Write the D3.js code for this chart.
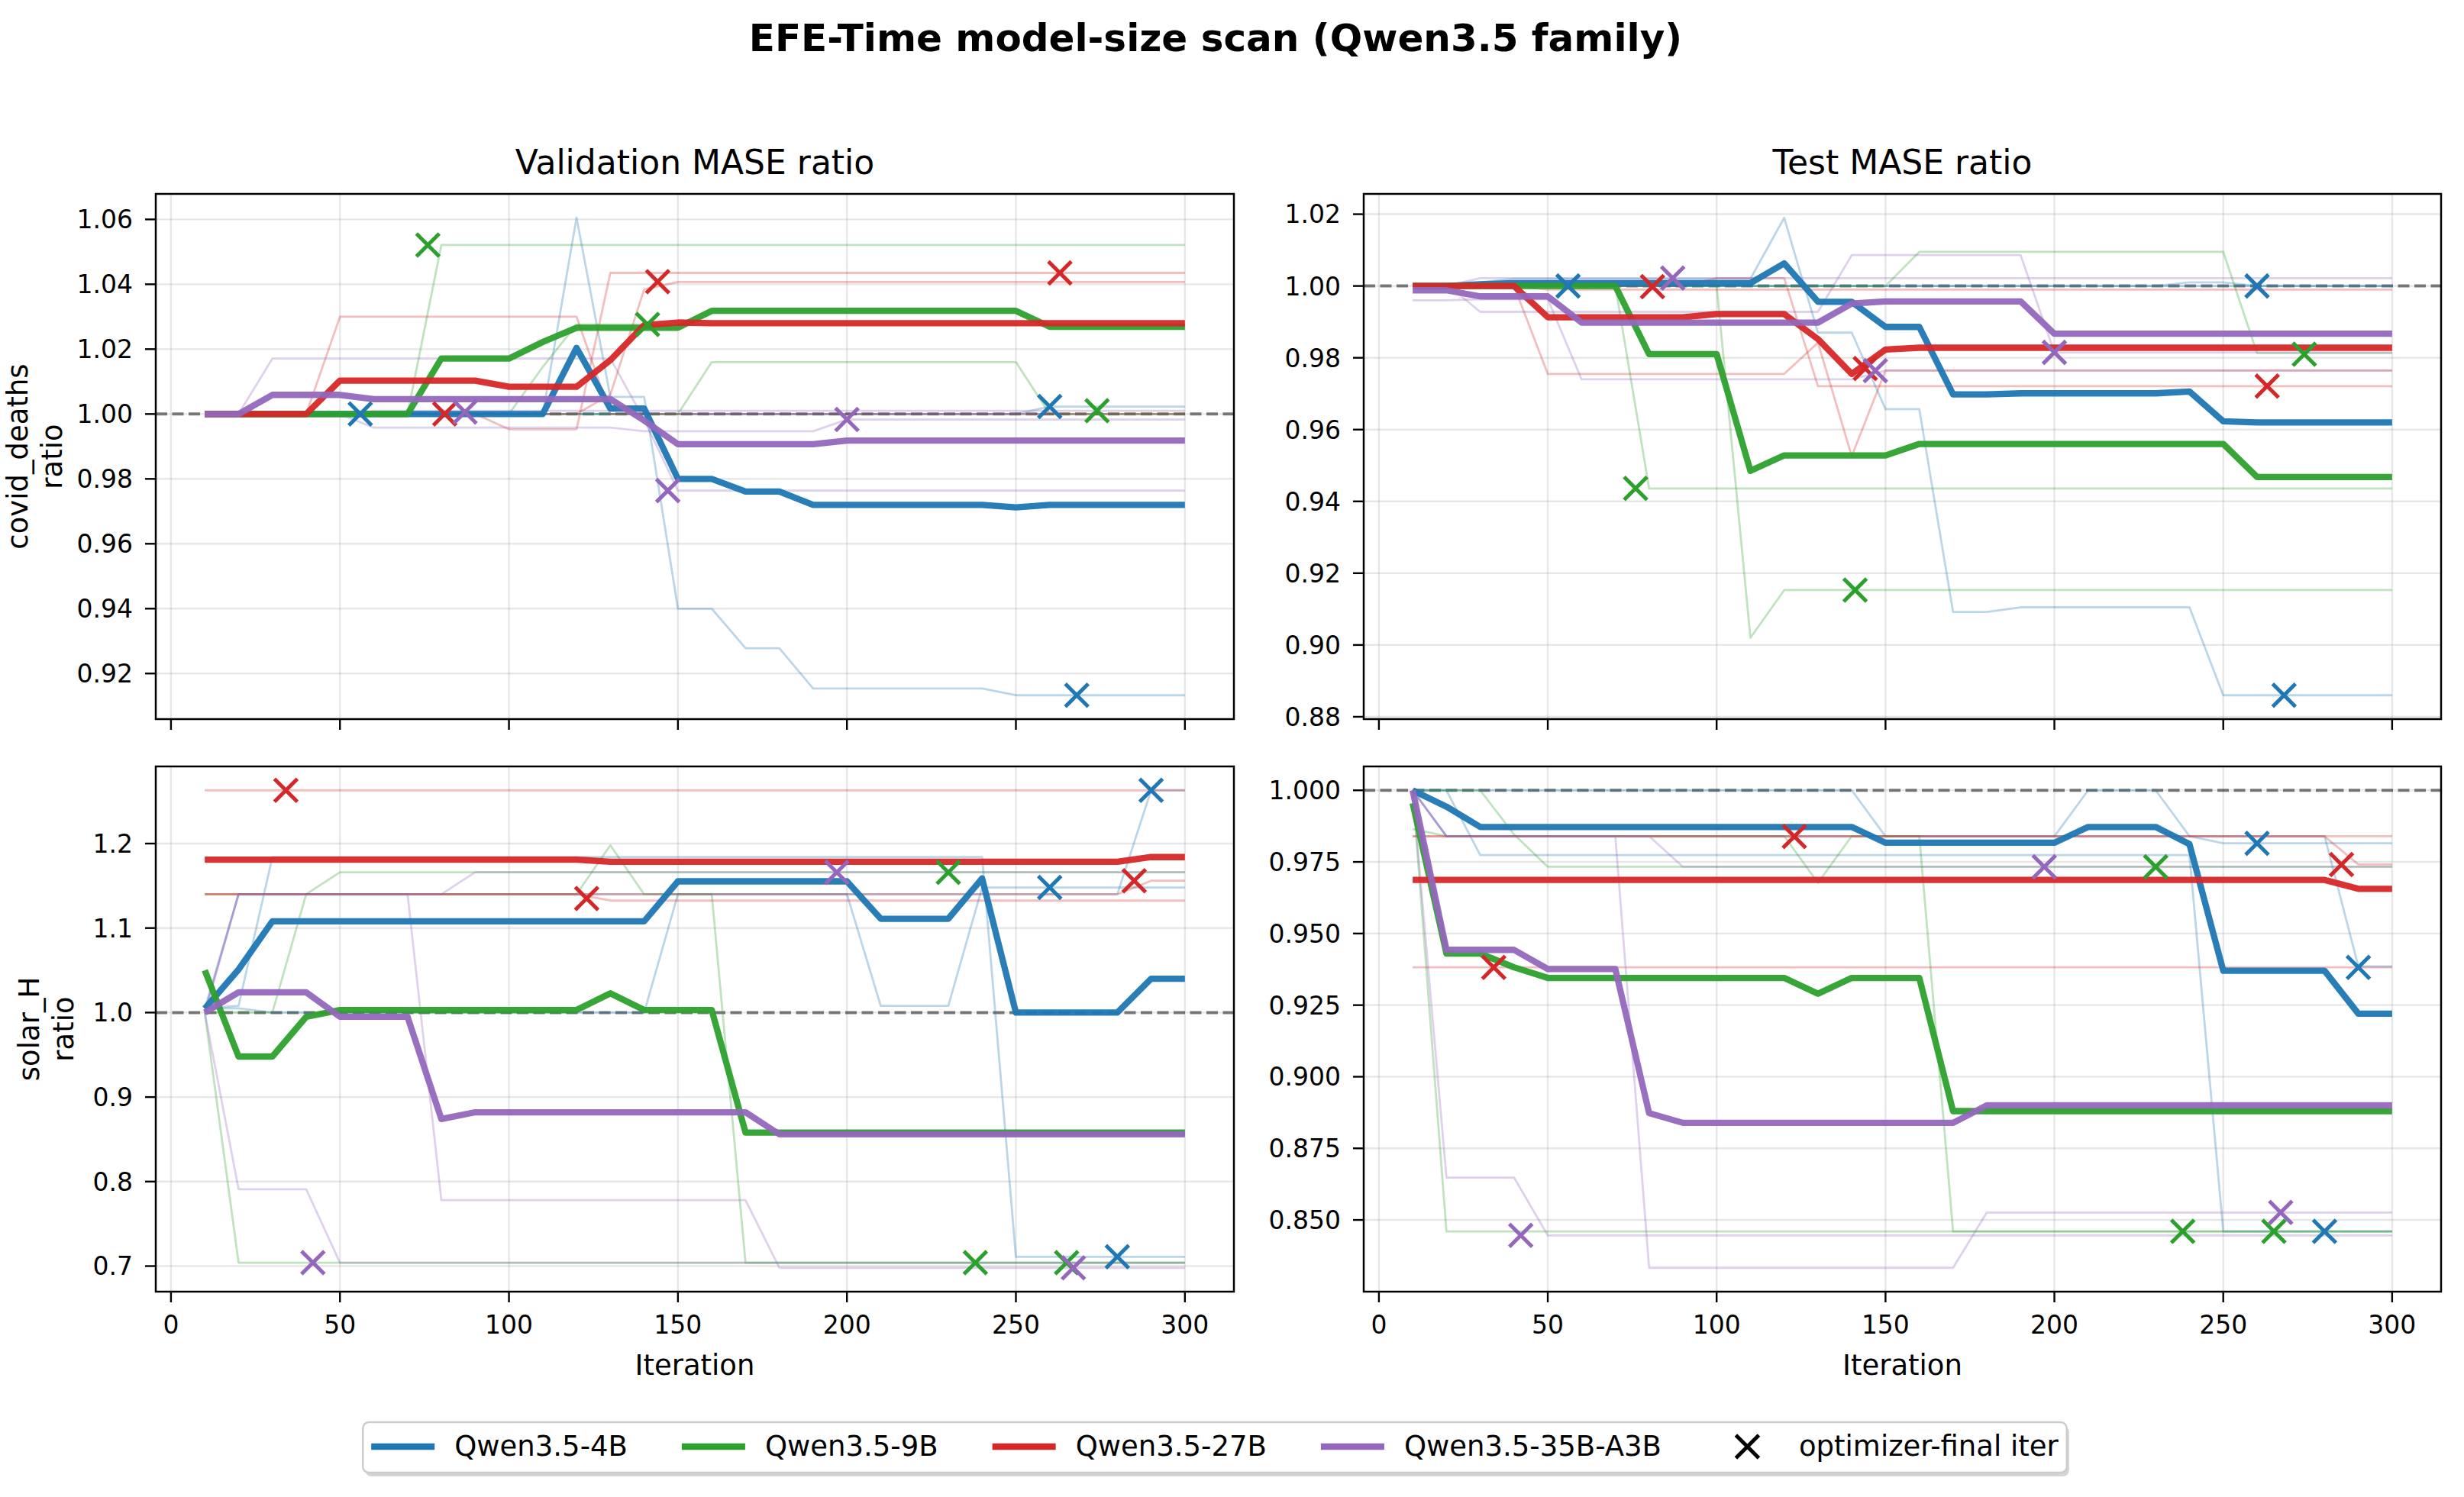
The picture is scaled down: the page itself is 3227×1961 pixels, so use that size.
<!DOCTYPE html>
<html>
<head>
<meta charset="utf-8">
<script src="https://cdn.jsdelivr.net/npm/d3@7"></script>
<style>
  body { margin: 0; background: #fff; }
  svg { display: block; }
  text { font-family: "DejaVu Sans", sans-serif; fill: #000; }
</style>
</head>
<body>
<svg id="fig" width="3227" height="1961"></svg>
<script>
// ---- data ----
const iterations = [10,20,30,40,50,60,70,80,90,100,
  110,120,130,140,150,160,170,180,190,200,
  210,220,230,240,250,260,270,280,290,300];

const models = ["Qwen3.5-4B", "Qwen3.5-9B", "Qwen3.5-27B", "Qwen3.5-35B-A3B"];
const modelColors = ["#1f77b4", "#2ca02c", "#d62728", "#9467bd"];
const xTicks = [0, 50, 100, 150, 200, 250, 300];

const yTicksCovidVal = [0.92, 0.94, 0.96, 0.98, 1.00, 1.02, 1.04, 1.06];
const yTicksCovidTest = [0.88, 0.90, 0.92, 0.94, 0.96, 0.98, 1.00, 1.02];
const yTicksSolarVal = [0.7, 0.8, 0.9, 1.0, 1.1, 1.2];
const yTicksSolarTest = [0.850, 0.875, 0.900, 0.925, 0.950, 0.975, 1.000];

// iteration at which each seed's optimizer finished (per model, 3 seeds)
const covidFinalIter = [[56, 260, 268], [76, 141, 274], [81, 144, 263], [87, 147, 200]];
const solarFinalIter = [[260, 280, 290], [230, 238, 265], [34, 123, 285], [42, 197, 267]];

// covid_deaths, validation
const covidValMean = [
  [1,1,1,1,1,1,1,1,1,1,
   1,1.0204,1.0017,1.0017,0.980,0.980,0.9761,0.9761,0.972,0.972,
   0.972,0.972,0.972,0.972,0.9712,0.972,0.972,0.972,0.972,0.972],
  [1,1,1,1,1,1,1,1.0171,1.0171,1.0171,
   1.0222,1.0266,1.0266,1.0266,1.0266,1.0318,1.0318,1.0318,1.0318,1.0318,
   1.0318,1.0318,1.0318,1.0318,1.0318,1.0269,1.0269,1.0269,1.0269,1.0269],
  [1,1,1,1,1.0103,1.0103,1.0103,1.0103,1.0103,1.0084,
   1.0084,1.0084,1.0166,1.0274,1.0282,1.028,1.028,1.028,1.028,1.028,
   1.028,1.028,1.028,1.028,1.028,1.028,1.028,1.028,1.028,1.028],
  [1,1,1.0059,1.0059,1.0059,1.0046,1.0046,1.0046,1.0046,1.0046,
   1.0046,1.0046,1.0046,0.998,0.9907,0.9907,0.9907,0.9907,0.9907,0.9918,
   0.9918,0.9918,0.9918,0.9918,0.9918,0.9918,0.9918,0.9918,0.9918,0.9918]
];
const covidValSeeds = [
  [[1,1,1,1,1,1,1,1,1,1,
    1,1.0605,1.0053,1.0053,0.940,0.940,0.9278,0.9278,0.9154,0.9154,
    0.9154,0.9154,0.9154,0.9154,0.9133,0.9133,0.9133,0.9133,0.9133,0.9133],
   [1,1,1,1,1,1,1,1,1,1,
    1,1,1,1,1,1,1,1,1,1,
    1,1,1,1,1,1.0023,1.0023,1.0023,1.0023,1.0023],
   [1,1,1,1,1,1,1,1,1,1,
    1,1,1,1,1,1,1,1,1,1,
    1,1,1,1,1,1,1,1,1,1]],
  [[1,1,1,1,1,1,1,1.0521,1.0521,1.0521,
    1.0521,1.0521,1.0521,1.0521,1.0521,1.0521,1.0521,1.0521,1.0521,1.0521,
    1.0521,1.0521,1.0521,1.0521,1.0521,1.0521,1.0521,1.0521,1.0521,1.0521],
   [1,1,1,1,1,1,1,1,1,1,
    1,1,1,1,1,1.016,1.016,1.016,1.016,1.016,
    1.016,1.016,1.016,1.016,1.016,1,1,1,1,1],
   [1,1,1,1,1,1,1,1,1,1,
    1.0145,1.0276,1.0276,1.0276,1.0276,1.0276,1.0276,1.0276,1.0276,1.0276,
    1.0276,1.0276,1.0276,1.0276,1.0276,1.0276,1.0276,1.0276,1.0276,1.0276]],
  [[1,1,1,1,1.03,1.03,1.03,1.03,1.03,1.03,
    1.03,1.03,1,1,1,1,1,1,1,1,
    1,1,1,1,1,1,1,1,1,1],
   [1,1,1,1,1,1,1,1,1,0.9953,
    0.9953,0.9953,1.0435,1.0435,1.0435,1.0435,1.0435,1.0435,1.0435,1.0435,
    1.0435,1.0435,1.0435,1.0435,1.0435,1.0435,1.0435,1.0435,1.0435,1.0435],
   [1,1,1,1,1,1,1,1,1,1,
    1,1,1.006,1.0384,1.0407,1.0407,1.0407,1.0407,1.0407,1.0407,
    1.0407,1.0407,1.0407,1.0407,1.0407,1.0407,1.0407,1.0407,1.0407,1.0407]],
  [[1,1,1.0171,1.0171,1.0171,1.0171,1.0171,1.0171,1.0171,1.0171,
    1.0171,1.0171,1.0171,0.9983,0.9764,0.9764,0.9764,0.9764,0.9764,0.9764,
    0.9764,0.9764,0.9764,0.9764,0.9764,0.9764,0.9764,0.9764,0.9764,0.9764],
   [1,1,1,1,1,0.9958,0.9958,0.9958,0.9958,0.9958,
    0.9958,0.9958,0.9958,0.9947,0.9947,0.9947,0.9947,0.9947,0.9947,0.9983,
    0.9983,0.9983,0.9983,0.9983,0.9983,0.9983,0.9983,0.9983,0.9983,0.9983],
   [1,1,1,1,1,1.001,1.001,1.001,1.001,1.001,
    1.001,1.001,1.001,1.001,1.001,1.001,1.001,1.001,1.001,1.001,
    1.001,1.001,1.001,1.001,1.001,1.001,1.001,1.001,1.001,1.001]]
];
const covidValFinal = [[1.000, 1.0023, 0.9133], [1.0521, 1.0276, 1.001], [1.000, 1.0408, 1.0435], [1.0006, 0.9764, 0.9983]];

// covid_deaths, test
const covidTestMean = [
  [1,1,1.0005,1.0008,1.0008,1.0008,1.0008,1.0008,1.0008,1.0008,
   1.0008,1.0063,0.9956,0.9956,0.9886,0.9886,0.9698,0.9698,0.9701,0.9701,
   0.9701,0.9701,0.9701,0.9706,0.9623,0.962,0.962,0.962,0.962,0.962],
  [1,1,1,1,1,1,1,0.981,0.981,0.981,
   0.9485,0.9528,0.9528,0.9528,0.9528,0.956,0.956,0.956,0.956,0.956,
   0.956,0.956,0.956,0.956,0.956,0.9468,0.9468,0.9468,0.9468,0.9468],
  [1,1,1,1,0.9913,0.9913,0.9913,0.9913,0.9913,0.9922,
   0.9922,0.9922,0.9852,0.9755,0.9823,0.9828,0.9828,0.9828,0.9828,0.9828,
   0.9828,0.9828,0.9828,0.9828,0.9828,0.9828,0.9828,0.9828,0.9828,0.9828],
  [0.9988,0.9988,0.9971,0.9971,0.9971,0.9898,0.9898,0.9898,0.9898,0.9898,
   0.9898,0.9898,0.9898,0.9951,0.9957,0.9957,0.9957,0.9957,0.9957,0.9867,
   0.9867,0.9867,0.9867,0.9867,0.9867,0.9867,0.9867,0.9867,0.9867,0.9867]
];
const covidTestSeeds = [
  [[1,1,1.001,1.002,1.002,1.002,1.002,1.002,1.002,1.002,
    1.002,1.019,0.987,0.987,0.9657,0.9657,0.9092,0.9092,0.9105,0.9105,
    0.9105,0.9105,0.9105,0.9105,0.886,0.886,0.886,0.886,0.886,0.886],
   [1,1,1,1,1,1,1,1,1,1,
    1,1,1,1,1,1,1,1,1,1,
    1,1,1,1.001,1.001,1,1,1,1,1],
   [1,1,1,1,1,1,1,1,1,1,
    1,1,1,1,1,1,1,1,1,1,
    1,1,1,1,1,1,1,1,1,1]],
  [[1,1,1,1,1,1,1,0.9436,0.9436,0.9436,
    0.9436,0.9436,0.9436,0.9436,0.9436,0.9436,0.9436,0.9436,0.9436,0.9436,
    0.9436,0.9436,0.9436,0.9436,0.9436,0.9436,0.9436,0.9436,0.9436,0.9436],
   [1,1,1,1,1,1,1,1,1,1,
    0.902,0.9153,0.9153,0.9153,0.9153,0.9153,0.9153,0.9153,0.9153,0.9153,
    0.9153,0.9153,0.9153,0.9153,0.9153,0.9153,0.9153,0.9153,0.9153,0.9153],
   [1,1,1,1,1,1,1,1,1,1,
    1,1,1,1,1,1.0095,1.0095,1.0095,1.0095,1.0095,
    1.0095,1.0095,1.0095,1.0095,1.0095,0.9813,0.9813,0.9813,0.9813,0.9813]],
  [[1,1,1,1,0.9755,0.9755,0.9755,0.9755,0.9755,0.9755,
    0.9755,0.9755,0.9842,0.9526,0.9765,0.9765,0.9765,0.9765,0.9765,0.9765,
    0.9765,0.9765,0.9765,0.9765,0.9765,0.9765,0.9765,0.9765,0.9765,0.9765],
   [1,1,1,1,1,1,1,1,1,1.0022,
    1.0022,1.0022,0.9721,0.9721,0.9721,0.9721,0.9721,0.9721,0.9721,0.9721,
    0.9721,0.9721,0.9721,0.9721,0.9721,0.9721,0.9721,0.9721,0.9721,0.9721],
   [1,1,1,1,0.999,0.999,0.999,0.999,0.999,0.999,
    0.999,0.999,0.999,0.999,0.999,0.999,0.999,0.999,0.999,0.999,
    0.999,0.999,0.999,0.999,0.999,0.999,0.999,0.999,0.999,0.999]],
  [[1,1,1.0022,1.0022,1.0022,1.0022,1.0022,1.0022,1.0022,1.0022,
    1.0022,1.0022,1.0022,1.0022,1.0022,1.0022,1.0022,1.0022,1.0022,1.0022,
    1.0022,1.0022,1.0022,1.0022,1.0022,1.0022,1.0022,1.0022,1.0022,1.0022],
   [0.996,0.996,0.9963,0.9963,0.9963,0.974,0.974,0.974,0.974,0.974,
    0.974,0.974,0.974,0.974,0.9764,0.9764,0.9764,0.9764,0.9764,0.9764,
    0.9764,0.9764,0.9764,0.9764,0.9764,0.9764,0.9764,0.9764,0.9764,0.9764],
   [1.0005,1.0005,0.9928,0.9928,0.9928,0.9928,0.9928,0.9928,0.9928,0.9928,
    0.9928,0.9928,0.9928,1.0086,1.0086,1.0086,1.0086,1.0086,1.0086,0.9815,
    0.9815,0.9815,0.9815,0.9815,0.9815,0.9815,0.9815,0.9815,0.9815,0.9815]]
];
const covidTestFinal = [[1.000, 1.000, 0.886], [0.9436, 0.9153, 0.981], [0.9998, 0.977, 0.9721], [1.0022, 0.9764, 0.9815]];

// solar_H, validation
const solarValMean = [
  [1.0046,1.051,1.108,1.108,1.108,1.108,1.108,1.108,1.108,1.108,
   1.108,1.108,1.108,1.108,1.1553,1.1553,1.1553,1.1553,1.1553,1.1553,
   1.111,1.111,1.111,1.1587,1.0,1.0,1.0,1.0,1.04,1.04],
  [1.05,0.948,0.948,0.995,1.003,1.003,1.003,1.003,1.003,1.003,
   1.003,1.003,1.0228,1.003,1.003,1.003,0.858,0.858,0.858,0.858,
   0.858,0.858,0.858,0.858,0.858,0.858,0.858,0.858,0.858,0.858],
  [1.181,1.181,1.181,1.181,1.181,1.181,1.181,1.181,1.181,1.181,
   1.181,1.181,1.1785,1.1785,1.1785,1.1785,1.1785,1.1785,1.1785,1.1785,
   1.1785,1.1785,1.1785,1.1785,1.1785,1.1785,1.1785,1.1785,1.184,1.184],
  [1.0,1.024,1.024,1.024,0.995,0.995,0.995,0.874,0.882,0.882,
   0.882,0.882,0.882,0.882,0.882,0.882,0.882,0.856,0.856,0.856,
   0.856,0.856,0.856,0.856,0.856,0.856,0.856,0.856,0.856,0.856]
];
const solarValSeeds = [
  [[1.005,1.008,1.184,1.184,1.184,1.184,1.184,1.184,1.184,1.184,
    1.184,1.184,1.184,1.184,1.184,1.184,1.184,1.184,1.184,1.184,
    1.184,1.184,1.184,1.184,0.711,0.711,0.711,0.711,0.711,0.711],
   [1.005,1.14,1.14,1.14,1.14,1.14,1.14,1.14,1.14,1.14,
    1.14,1.14,1.14,1.14,1.14,1.14,1.14,1.14,1.14,1.14,
    1.14,1.14,1.14,1.14,1.14,1.14,1.14,1.14,1.263,1.263],
   [1.005,1.005,1.0,1.0,1.0,1.0,1.0,1.0,1.0,1.0,
    1.0,1.0,1.0,1.0,1.14,1.14,1.14,1.14,1.14,1.14,
    1.008,1.008,1.008,1.148,1.148,1.148,1.148,1.148,1.148,1.148]],
  [[1.0,0.704,0.704,0.704,0.704,0.704,0.704,0.704,0.704,0.704,
    0.704,0.704,0.704,0.704,0.704,0.704,0.704,0.704,0.704,0.704,
    0.704,0.704,0.704,0.704,0.704,0.704,0.704,0.704,0.704,0.704],
   [1.0,1.0,1.0,1.14,1.166,1.166,1.166,1.166,1.166,1.166,
    1.166,1.166,1.166,1.166,1.166,1.166,1.166,1.166,1.166,1.166,
    1.166,1.166,1.166,1.166,1.166,1.166,1.166,1.166,1.166,1.166],
   [1.14,1.14,1.14,1.14,1.14,1.14,1.14,1.14,1.14,1.14,
    1.14,1.14,1.198,1.14,1.14,1.14,0.704,0.704,0.704,0.704,
    0.704,0.704,0.704,0.704,0.704,0.704,0.704,0.704,0.704,0.704]],
  [[1.263,1.263,1.263,1.263,1.263,1.263,1.263,1.263,1.263,1.263,
    1.263,1.263,1.263,1.263,1.263,1.263,1.263,1.263,1.263,1.263,
    1.263,1.263,1.263,1.263,1.263,1.263,1.263,1.263,1.263,1.263],
   [1.14,1.14,1.14,1.14,1.14,1.14,1.14,1.14,1.14,1.14,
    1.14,1.14,1.14,1.14,1.14,1.14,1.14,1.14,1.14,1.14,
    1.14,1.14,1.14,1.14,1.14,1.14,1.14,1.14,1.156,1.156],
   [1.14,1.14,1.14,1.14,1.14,1.14,1.14,1.14,1.14,1.14,
    1.14,1.14,1.1325,1.1325,1.1325,1.1325,1.1325,1.1325,1.1325,1.1325,
    1.1325,1.1325,1.1325,1.1325,1.1325,1.1325,1.1325,1.1325,1.1325,1.1325]],
  [[1.0,1.14,1.14,1.14,1.14,1.14,1.14,1.14,1.166,1.166,
    1.166,1.166,1.166,1.166,1.166,1.166,1.166,1.166,1.166,1.166,
    1.166,1.166,1.166,1.166,1.166,1.166,1.166,1.166,1.166,1.166],
   [1.0,0.791,0.791,0.791,0.704,0.704,0.704,0.704,0.704,0.704,
    0.704,0.704,0.704,0.704,0.704,0.704,0.704,0.704,0.704,0.704,
    0.704,0.704,0.704,0.704,0.704,0.704,0.704,0.704,0.704,0.704],
   [1.0,1.14,1.14,1.14,1.14,1.14,1.14,0.778,0.778,0.778,
    0.778,0.778,0.778,0.778,0.778,0.778,0.778,0.698,0.698,0.698,
    0.698,0.698,0.698,0.698,0.698,0.698,0.698,0.698,0.698,0.698]]
];
const solarValFinal = [[1.148, 0.711, 1.263], [1.166, 0.704, 0.704], [1.263, 1.135, 1.156], [0.704, 1.166, 0.698]];

// solar_H, test
const solarTestMean = [
  [1.0,0.9943,0.9872,0.9872,0.9872,0.9872,0.9872,0.9872,0.9872,0.9872,
   0.9872,0.9872,0.9872,0.9872,0.9817,0.9817,0.9817,0.9817,0.9817,0.9817,
   0.9872,0.9872,0.9872,0.9812,0.937,0.937,0.937,0.937,0.922,0.922],
  [0.9955,0.943,0.943,0.9382,0.9345,0.9345,0.9345,0.9345,0.9345,0.9345,
   0.9345,0.9345,0.929,0.9345,0.9345,0.9345,0.888,0.888,0.888,0.888,
   0.888,0.888,0.888,0.888,0.888,0.888,0.888,0.888,0.888,0.888],
  [0.9687,0.9687,0.9687,0.9687,0.9687,0.9687,0.9687,0.9687,0.9687,0.9687,
   0.9687,0.9687,0.9687,0.9687,0.9687,0.9687,0.9687,0.9687,0.9687,0.9687,
   0.9687,0.9687,0.9687,0.9687,0.9687,0.9687,0.9687,0.9687,0.9656,0.9656],
  [1.0,0.9443,0.9443,0.9443,0.9376,0.9376,0.9376,0.8873,0.8839,0.8839,
   0.8839,0.8839,0.8839,0.8839,0.8839,0.8839,0.8839,0.89,0.89,0.89,
   0.89,0.89,0.89,0.89,0.89,0.89,0.89,0.89,0.89,0.89]
];
const solarTestSeeds = [
  [[1,1,0.9774,0.9774,0.9774,0.9774,0.9774,0.9774,0.9774,0.9774,
    0.9774,0.9774,0.9774,0.9774,0.9774,0.9774,0.9774,0.9774,0.9774,0.9774,
    0.9774,0.9774,0.9774,0.9774,0.846,0.846,0.846,0.846,0.846,0.846],
   [1,1,1,1,1,1,1,1,1,1,
    1,1,1,1,0.9839,0.9839,0.9839,0.9839,0.9839,0.9839,
    1,1,1,0.984,0.9815,0.9815,0.9815,0.9815,0.9815,0.9815],
   [1,0.984,0.984,0.984,0.984,0.984,0.984,0.984,0.984,0.984,
    0.984,0.984,0.984,0.984,0.984,0.984,0.984,0.984,0.984,0.984,
    0.984,0.984,0.984,0.984,0.984,0.984,0.984,0.984,0.9385,0.9385]],
  [[1,0.846,0.846,0.846,0.846,0.846,0.846,0.846,0.846,0.846,
    0.846,0.846,0.846,0.846,0.846,0.846,0.846,0.846,0.846,0.846,
    0.846,0.846,0.846,0.846,0.846,0.846,0.846,0.846,0.846,0.846],
   [1,1,1,0.9846,0.9733,0.9733,0.9733,0.9733,0.9733,0.9733,
    0.9733,0.9733,0.9733,0.9733,0.9733,0.9733,0.9733,0.9733,0.9733,0.9733,
    0.9733,0.9733,0.9733,0.9733,0.9733,0.9733,0.9733,0.9733,0.9733,0.9733],
   [0.9865,0.984,0.984,0.984,0.984,0.984,0.984,0.984,0.984,0.984,
    0.984,0.984,0.9677,0.984,0.984,0.984,0.846,0.846,0.846,0.846,
    0.846,0.846,0.846,0.846,0.846,0.846,0.846,0.846,0.846,0.846]],
  [[0.9839,0.9839,0.9839,0.9839,0.9839,0.9839,0.9839,0.9839,0.9839,0.9839,
    0.9839,0.9839,0.9839,0.9839,0.9839,0.9839,0.9839,0.9839,0.9839,0.9839,
    0.9839,0.9839,0.9839,0.9839,0.9839,0.9839,0.9839,0.9839,0.9741,0.9741],
   [0.9382,0.9382,0.9382,0.9382,0.9382,0.9382,0.9382,0.9382,0.9382,0.9382,
    0.9382,0.9382,0.9382,0.9382,0.9382,0.9382,0.9382,0.9382,0.9382,0.9382,
    0.9382,0.9382,0.9382,0.9382,0.9382,0.9382,0.9382,0.9382,0.9382,0.9382],
   [0.984,0.984,0.984,0.984,0.984,0.984,0.984,0.984,0.984,0.984,
    0.984,0.984,0.984,0.984,0.984,0.984,0.984,0.984,0.984,0.984,
    0.984,0.984,0.984,0.984,0.984,0.984,0.984,0.984,0.984,0.984]],
  [[1,0.984,0.984,0.984,0.984,0.984,0.984,0.984,0.9733,0.9733,
    0.9733,0.9733,0.9733,0.9733,0.9733,0.9733,0.9733,0.9733,0.9733,0.9733,
    0.9733,0.9733,0.9733,0.9733,0.9733,0.9733,0.9733,0.9733,0.9733,0.9733],
   [1,0.8648,0.8648,0.8648,0.8446,0.8446,0.8446,0.8446,0.8446,0.8446,
    0.8446,0.8446,0.8446,0.8446,0.8446,0.8446,0.8446,0.8446,0.8446,0.8446,
    0.8446,0.8446,0.8446,0.8446,0.8446,0.8446,0.8446,0.8446,0.8446,0.8446],
   [1,0.984,0.984,0.984,0.984,0.984,0.984,0.8333,0.8333,0.8333,
    0.8333,0.8333,0.8333,0.8333,0.8333,0.8333,0.8333,0.8526,0.8526,0.8526,
    0.8526,0.8526,0.8526,0.8526,0.8526,0.8526,0.8526,0.8526,0.8526,0.8526]]
];
const solarTestFinal = [[0.9815, 0.846, 0.9382], [0.9733, 0.846, 0.846], [0.9382, 0.9839, 0.9741], [0.8446, 0.9733, 0.8526]];

// ---- layout ----
const svg = d3.select("#fig");
const tickFont = 33;
const boxes = [
  {left: 204, right: 1616, top: 254, bottom: 942},
  {left: 1786, right: 3197, top: 254, bottom: 942},
  {left: 204, right: 1616, top: 1004, bottom: 1692},
  {left: 1786, right: 3197, top: 1004, bottom: 1692}
];

const panels = [
  {mean: covidValMean, seeds: covidValSeeds, finals: covidValFinal, finalIter: covidFinalIter,
   yTicks: yTicksCovidVal, fmt: ".2f", title: "Validation MASE ratio", ylabel: ["covid_deaths", "ratio"], ylabelX: [36, 81], box: boxes[0], xLabels: false},
  {mean: covidTestMean, seeds: covidTestSeeds, finals: covidTestFinal, finalIter: covidFinalIter,
   yTicks: yTicksCovidTest, fmt: ".2f", title: "Test MASE ratio", ylabel: null, box: boxes[1], xLabels: false},
  {mean: solarValMean, seeds: solarValSeeds, finals: solarValFinal, finalIter: solarFinalIter,
   yTicks: yTicksSolarVal, fmt: ".1f", title: null, ylabel: ["solar_H", "ratio"], ylabelX: [51, 96], box: boxes[2], xLabels: true},
  {mean: solarTestMean, seeds: solarTestSeeds, finals: solarTestFinal, finalIter: solarFinalIter,
   yTicks: yTicksSolarTest, fmt: ".3f", title: null, ylabel: null, box: boxes[3], xLabels: true}
];

const xExtent = d3.extent(iterations);
const xPad = (xExtent[1] - xExtent[0]) * 0.05;
const xMarkerPath = "M-15,-15L15,15M-15,15L15,-15";

panels.forEach((p, pi) => {
  const b = p.box;
  const x = d3.scaleLinear().domain([xExtent[0] - xPad, xExtent[1] + xPad]).range([b.left, b.right]);
  const vals = p.mean.flat().concat(p.seeds.flat(2), p.finals.flat());
  const [lo, hi] = d3.extent(vals);
  const pad = (hi - lo) * 0.05;
  const y = d3.scaleLinear().domain([lo - pad, hi + pad]).range([b.bottom, b.top]);

  const g = svg.append("g");
  g.append("clipPath").attr("id", "clip" + pi)
    .append("rect").attr("x", b.left).attr("y", b.top)
    .attr("width", b.right - b.left).attr("height", b.bottom - b.top);

  // grid
  g.append("g").selectAll("line").data(xTicks).join("line")
    .attr("x1", d => x(d)).attr("x2", d => x(d)).attr("y1", b.top).attr("y2", b.bottom)
    .attr("stroke", "#b0b0b0").attr("stroke-opacity", 0.3).attr("stroke-width", 2.4);
  g.append("g").selectAll("line").data(p.yTicks).join("line")
    .attr("x1", b.left).attr("x2", b.right).attr("y1", d => y(d)).attr("y2", d => y(d))
    .attr("stroke", "#b0b0b0").attr("stroke-opacity", 0.3).attr("stroke-width", 2.4);

  const plot = g.append("g").attr("clip-path", `url(#clip${pi})`);

  // reference line at ratio 1
  plot.append("line")
    .attr("x1", b.left).attr("x2", b.right).attr("y1", y(1)).attr("y2", y(1))
    .attr("stroke", "#000").attr("stroke-opacity", 0.5).attr("stroke-width", 4)
    .attr("stroke-dasharray", "15,6.5");

  const line = d3.line().x((d, i) => x(iterations[i])).y(d => y(d));

  // individual seeds
  p.seeds.forEach((ss, m) => {
    ss.forEach(s => {
      plot.append("path").datum(s).attr("d", line)
        .attr("fill", "none").attr("stroke", modelColors[m])
        .attr("stroke-opacity", 0.3).attr("stroke-width", 2.8)
        .attr("stroke-linejoin", "round");
    });
  });
  // seed means
  p.mean.forEach((s, m) => {
    plot.append("path").datum(s).attr("d", line)
      .attr("fill", "none").attr("stroke", modelColors[m])
      .attr("stroke-opacity", 0.95).attr("stroke-width", 8.3)
      .attr("stroke-linejoin", "round");
  });
  // optimizer-final markers
  p.finals.forEach((vs, m) => {
    vs.forEach((v, k) => {
      plot.append("path").attr("d", xMarkerPath)
        .attr("transform", `translate(${x(p.finalIter[m][k])},${y(v)})`)
        .attr("fill", "none").attr("stroke", modelColors[m]).attr("stroke-width", 5);
    });
  });

  // frame
  g.append("rect").attr("x", b.left).attr("y", b.top)
    .attr("width", b.right - b.left).attr("height", b.bottom - b.top)
    .attr("fill", "none").attr("stroke", "#000").attr("stroke-width", 2.5);

  // x ticks
  g.append("g").selectAll("line").data(xTicks).join("line")
    .attr("x1", d => x(d)).attr("x2", d => x(d)).attr("y1", b.bottom).attr("y2", b.bottom + 14)
    .attr("stroke", "#000").attr("stroke-width", 2.4);
  if (p.xLabels) {
    g.append("g").selectAll("text").data(xTicks).join("text")
      .attr("x", d => x(d)).attr("y", b.bottom + 55)
      .attr("text-anchor", "middle").attr("font-size", tickFont)
      .text(d => d);
    g.append("text").attr("x", (b.left + b.right) / 2).attr("y", b.bottom + 109)
      .attr("text-anchor", "middle").attr("font-size", 37).text("Iteration");
  }

  // y ticks
  const fmt = d3.format(p.fmt);
  g.append("g").selectAll("line").data(p.yTicks).join("line")
    .attr("x1", b.left - 14).attr("x2", b.left).attr("y1", d => y(d)).attr("y2", d => y(d))
    .attr("stroke", "#000").attr("stroke-width", 2.4);
  g.append("g").selectAll("text").data(p.yTicks).join("text")
    .attr("x", b.left - 30).attr("y", d => y(d)).attr("dy", "0.36em")
    .attr("text-anchor", "end").attr("font-size", tickFont)
    .text(d => fmt(d));

  if (p.title) {
    g.append("text").attr("x", (b.left + b.right) / 2).attr("y", b.top - 26)
      .attr("text-anchor", "middle").attr("font-size", 44).text(p.title);
  }
  if (p.ylabel) {
    const cy = (b.top + b.bottom) / 2;
    p.ylabel.forEach((t, k) => {
      g.append("text")
        .attr("transform", `translate(${p.ylabelX[k]},${cy}) rotate(-90)`)
        .attr("text-anchor", "middle").attr("font-size", 37).text(t);
    });
  }
});

// figure title
svg.append("text").attr("x", 1592).attr("y", 67)
  .attr("text-anchor", "middle").attr("font-size", 50).attr("font-weight", "bold")
  .text("EFE-Time model-size scan (Qwen3.5 family)");

// ---- legend ----
const legendLabels = models.concat(["optimizer-final iter"]);
const legend = svg.append("g");
const legendFont = 37;
const handleLen = 83, handlePad = 26, colGap = 71, legendCy = 1895;
const items = [];
let cursor = 0;
legendLabels.forEach((label, i) => {
  const t = legend.append("text").attr("font-size", legendFont).attr("y", legendCy + 12).text(label);
  const w = t.node().getComputedTextLength();
  items.push({label, i, t, hx: cursor, tx: cursor + handleLen + handlePad});
  cursor += handleLen + handlePad + w + colGap;
});
const contentW = cursor - colGap;
const legendCenter = 1591;
const x0 = legendCenter - contentW / 2;
const boxPad = 11;
legend.insert("rect", ":first-child")
  .attr("x", x0 - boxPad + 3).attr("y", 1863 + 5)
  .attr("width", contentW + 2 * boxPad).attr("height", 66).attr("rx", 8)
  .attr("fill", "#d4d4d4");
legend.insert("rect", "text")
  .attr("x", x0 - boxPad).attr("y", 1863)
  .attr("width", contentW + 2 * boxPad).attr("height", 66).attr("rx", 8)
  .attr("fill", "#fff").attr("stroke", "#cccccc").attr("stroke-width", 2.5);
items.forEach(it => {
  it.t.attr("x", x0 + it.tx);
  if (it.i < models.length) {
    legend.append("line")
      .attr("x1", x0 + it.hx).attr("x2", x0 + it.hx + handleLen)
      .attr("y1", legendCy).attr("y2", legendCy)
      .attr("stroke", modelColors[it.i]).attr("stroke-width", 8.5);
  } else {
    legend.append("path").attr("d", xMarkerPath)
      .attr("transform", `translate(${x0 + it.hx + handleLen / 2},${legendCy})`)
      .attr("fill", "none").attr("stroke", "#000").attr("stroke-width", 5);
  }
});
</script>
</body>
</html>
